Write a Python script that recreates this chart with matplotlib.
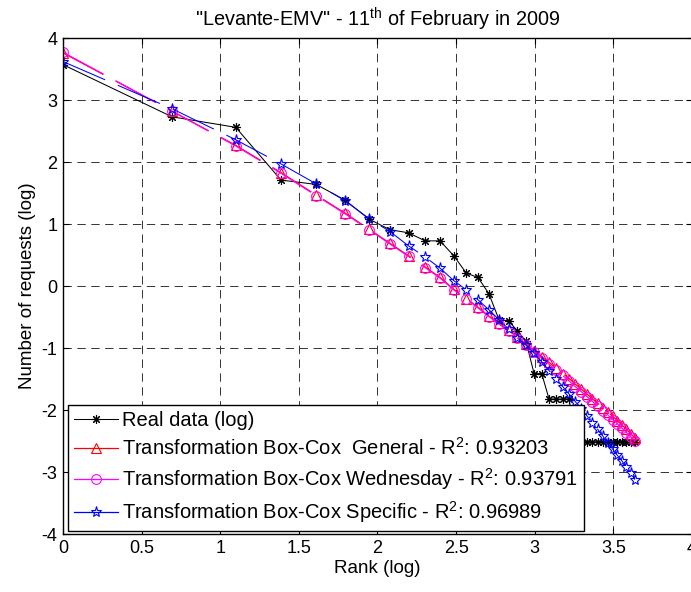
import matplotlib.pyplot as plt
import numpy as np
from matplotlib.lines import Line2D

plt.rcParams['font.family'] = ['Liberation Sans', 'DejaVu Sans']
plt.rcParams['mathtext.default'] = 'regular'
plt.rcParams['lines.scale_dashes'] = False
plt.rcParams['axes.unicode_minus'] = False

# rank 1..38, x axis is ln(rank)
ranks = np.arange(1, 39)

real_data = [3.57, 2.73, 2.56, 1.71, 1.64, 1.39, 1.08, 0.91, 0.86, 0.73,
             0.73, 0.49, 0.21, 0.14, -0.12, -0.54, -0.56, -0.72, -0.89, -1.41,
             -1.41, -1.82, -1.82, -1.82, -1.82, -2.51, -2.51, -2.51, -2.51, -2.51,
             -2.51, -2.51, -2.51, -2.51, -2.51, -2.51, -2.51, -2.51]

bc_general = [3.76, 2.82, 2.27, 1.83, 1.47, 1.18, 0.92, 0.69, 0.49, 0.31,
              0.14, -0.05, -0.20, -0.34, -0.48, -0.60, -0.71, -0.82, -0.93, -1.04,
              -1.14, -1.23, -1.32, -1.41, -1.49, -1.58, -1.66, -1.74, -1.82, -1.89,
              -1.96, -2.03, -2.10, -2.17, -2.24, -2.31, -2.38, -2.45]

bc_wednesday = [3.77, 2.82, 2.26, 1.82, 1.46, 1.17, 0.91, 0.68, 0.48, 0.30,
                0.13, -0.06, -0.21, -0.35, -0.49, -0.61, -0.73, -0.84, -0.95, -1.06,
                -1.16, -1.26, -1.35, -1.44, -1.53, -1.62, -1.70, -1.78, -1.86, -1.94,
                -2.01, -2.08, -2.15, -2.22, -2.29, -2.36, -2.43, -2.50]

bc_specific = [3.62, 2.86, 2.36, 1.97, 1.65, 1.38, 1.09, 0.88, 0.65, 0.47,
               0.29, 0.09, -0.06, -0.22, -0.38, -0.54, -0.69, -0.84, -0.95, -1.08,
               -1.22, -1.36, -1.49, -1.62, -1.74, -1.86, -1.98, -2.09, -2.20, -2.31,
               -2.42, -2.53, -2.63, -2.73, -2.82, -2.92, -3.01, -3.12]

labels = ['Real data (log)',
          'Transformation Box-Cox  General - R$^2$: 0.93203',
          'Transformation Box-Cox Wednesday - R$^2$: 0.93791',
          'Transformation Box-Cox Specific - R$^2$: 0.96989']

x = np.log(ranks)

fig = plt.figure(figsize=(6.91, 5.92), dpi=100)
ax = fig.add_axes([0.0912, 0.0975, 0.9102, 0.8383])

fit_dash = (0, (33, 10))
asterisk = (8, 2, 0)

ax.plot(x, real_data, color='black', lw=0.75, marker=asterisk, ms=6.5, mew=0.8)
ax.plot(x, bc_general, color='#ff0000', lw=0.9, ls=fit_dash, marker='^', ms=7,
        mfc='none', mew=0.8)
ax.plot(x, bc_wednesday, color='#ff00ff', lw=0.9, ls=fit_dash, marker='o', ms=7,
        mfc='none', mew=0.8)
ax.plot(x, bc_specific, color='#0000ff', lw=0.75, ls=fit_dash, marker='*', ms=8,
        mfc='none', mew=0.8)

ax.set_xlim(0, 4)
ax.set_ylim(-4, 4)
ax.set_xticks(np.arange(0, 4.01, 0.5))
ax.set_xticklabels(['0', '0.5', '1', '1.5', '2', '2.5', '3', '3.5', '4'])
ax.set_yticks(np.arange(-4, 5, 1))
ax.grid(True, color='0.2', lw=0.7, ls=(0, (6, 4)))
ax.tick_params(direction='in', top=True, right=True, length=4, labelsize=13, pad=4)
for s in ax.spines.values():
    s.set_linewidth(1.0)

ax.set_title('"Levante-EMV" - 11$^{th}$ of February in 2009', fontsize=14.3, pad=8)
ax.set_xlabel('Rank (log)', fontsize=13.5, labelpad=2)
ax.set_ylabel('Number of requests (log)', fontsize=13.5, labelpad=4)

handles = [
    Line2D([], [], color='black', lw=0.75, marker=asterisk, ms=6.5, mew=0.8),
    Line2D([], [], color='#ff0000', lw=0.9, marker='^', ms=7, mfc='none', mew=0.8),
    Line2D([], [], color='#ff00ff', lw=0.9, marker='o', ms=7, mfc='none', mew=0.8),
    Line2D([], [], color='#0000ff', lw=0.9, marker='*', ms=8, mfc='none', mew=0.8),
]
leg = ax.legend(handles, labels, loc='lower left', bbox_to_anchor=(0.008, 0.007),
                borderaxespad=0, fontsize=14.5, fancybox=False, framealpha=1,
                edgecolor='black', handlelength=2.2, handletextpad=0.2,
                labelspacing=0.35, borderpad=0.3)
leg.get_frame().set_linewidth(1.0)

fig.savefig('out.png', dpi=100)
